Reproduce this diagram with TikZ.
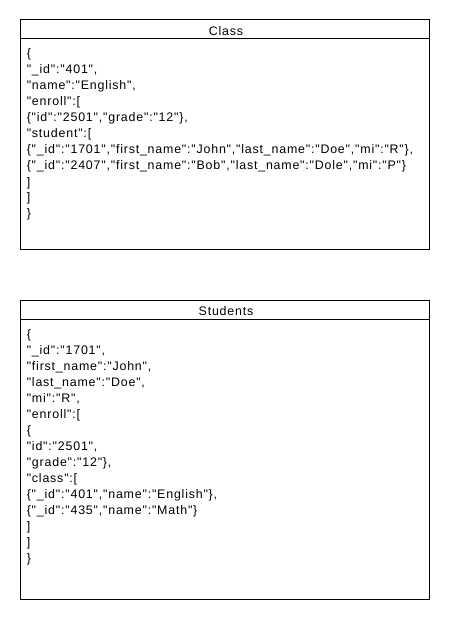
\documentclass[tikz,border=0pt]{standalone}
\usepackage{fontspec}
\setmainfont{Liberation Sans}[Ligatures=TeXOff,LetterSpace=6.5]

\tikzset{
  box/.style={draw,line width=0.75pt},
  title/.style={anchor=base,inner sep=0pt},
  entry/.style={anchor=base west,inner sep=0pt}
}

\begin{document}
\begin{tikzpicture}[x=0.75pt,y=-0.75pt,font=\fontsize{9.3}{12}\selectfont]
  \useasboundingbox (0,0) rectangle (450,620);

  % Class document
  \draw[box] (20,20) rectangle (429,249);
  \draw[box] (20,39) -- (429,39);
  \node[title] (classtitle) at (226,35.5) {Class};
  \foreach \txt [count=\i] in {{\{}, {"\_id":"401",}, {"name":"English",}, {"enroll":[},
      {\{"id":"2501","grade":"12"\},}, {"student":[},
      {\{"\_id":"1701","first\_name":"John","last\_name":"Doe","mi":"R"\},},
      {\{"\_id":"2407","first\_name":"Bob","last\_name":"Dole","mi":"P"\}},
      {]}, {]}, {\}}}
    \node[entry] (class\i) at (26.5,{58+16*(\i-1)}) {\txt};

  % Students document
  \draw[box] (20,300) rectangle (429,599);
  \draw[box] (20,319) -- (429,319);
  \node[title] (studentstitle) at (226,315.5) {Students};
  \foreach \txt [count=\i] in {{\{}, {"\_id":"1701",}, {"first\_name":"John",},
      {"last\_name":"Doe",}, {"mi":"R",}, {"enroll":[}, {\{}, {"id":"2501",},
      {"grade":"12"\},}, {"class":[}, {\{"\_id":"401","name":"English"\},},
      {\{"\_id":"435","name":"Math"\}}, {]}, {]}, {\}}}
    \node[entry] (student\i) at (26.5,{338+16*(\i-1)}) {\txt};
\end{tikzpicture}
\end{document}
